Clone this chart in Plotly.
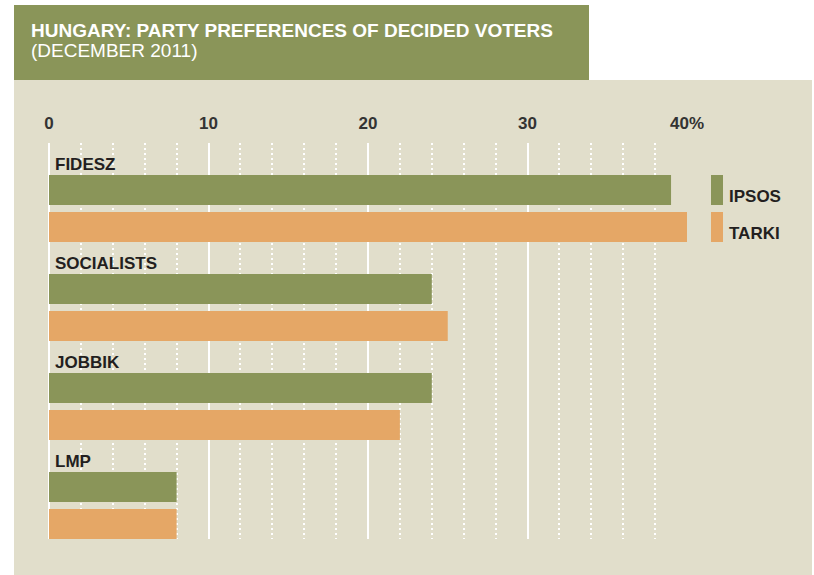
import plotly.graph_objects as go

# ---- data ----
parties = ["FIDESZ", "SOCIALISTS", "JOBBIK", "LMP"]
ipsos = [39, 24, 24, 8]
tarki = [40, 25, 22, 8]
series_names = ["IPSOS", "TARKI"]
tick_vals = [0, 10, 20, 30, 40]
tick_text = ["0", "10", "20", "30", "40%"]
title_text = "HUNGARY: PARTY PREFERENCES OF DECIDED VOTERS"
subtitle_text = "(DECEMBER 2011)"

# ---- style ----
GREEN = "#8A9559"
ORANGE = "#E5A766"
BEIGE = "#E1DECB"
DARK = "#231F20"
FONT = "Liberation Sans, Arial, Helvetica, sans-serif"

W, H = 814, 575
ML, MR, MT, MB = 49, 127, 143, 36
PW = W - ML - MR
PH = H - MT - MB


def px_x(px):
    return (px - ML) / PW


def px_y(py):
    return (H - MB - py) / PH


fig = go.Figure()
fig.add_trace(go.Bar(
    y=parties, x=ipsos, orientation="h", name=series_names[0],
    marker=dict(color=GREEN, line=dict(width=0)),
    offset=-0.1768, width=0.303, showlegend=False,
))
fig.add_trace(go.Bar(
    y=parties, x=tarki, orientation="h", name=series_names[1],
    marker=dict(color=ORANGE, line=dict(width=0)),
    offset=0.197, width=0.303, showlegend=False,
))

shapes = [
    # beige panel
    dict(type="rect", xref="paper", yref="paper", layer="below",
         x0=px_x(14), x1=px_x(812), y0=px_y(575), y1=px_y(80),
         fillcolor=BEIGE, line=dict(width=0)),
    # title box
    dict(type="rect", xref="paper", yref="paper", layer="below",
         x0=px_x(14), x1=px_x(589), y0=px_y(80), y1=px_y(5),
         fillcolor=GREEN, line=dict(width=0)),
    # legend swatches
    dict(type="rect", xref="paper", yref="paper",
         x0=px_x(711), x1=px_x(723), y0=px_y(205), y1=px_y(175),
         fillcolor=GREEN, line=dict(width=0)),
    dict(type="rect", xref="paper", yref="paper",
         x0=px_x(711), x1=px_x(723), y0=px_y(242), y1=px_y(212),
         fillcolor=ORANGE, line=dict(width=0)),
]

annotations = [
    dict(text=title_text, xref="paper", yref="paper", x=px_x(29), y=px_y(30),
         xanchor="left", yanchor="middle", showarrow=False,
         font=dict(family=FONT, size=19, color="white", weight="bold")),
    dict(text=subtitle_text, xref="paper", yref="paper", x=px_x(29), y=px_y(50),
         xanchor="left", yanchor="middle", showarrow=False,
         font=dict(family=FONT, size=19, color="white")),
    dict(text=series_names[0], xref="paper", yref="paper", x=px_x(727), y=px_y(196),
         xanchor="left", yanchor="middle", showarrow=False,
         font=dict(family=FONT, size=17, color=DARK, weight="bold")),
    dict(text=series_names[1], xref="paper", yref="paper", x=px_x(727), y=px_y(233),
         xanchor="left", yanchor="middle", showarrow=False,
         font=dict(family=FONT, size=17, color=DARK, weight="bold")),
]
for p in parties:
    annotations.append(dict(
        text=p, x=0, y=p, xref="x", yref="y", xanchor="left", yanchor="middle",
        xshift=4, yshift=28, showarrow=False,
        font=dict(family=FONT, size=17, color=DARK, weight="bold"),
    ))

fig.update_layout(
    width=W, height=H,
    margin=dict(l=ML, r=MR, t=MT, b=MB, pad=0),
    paper_bgcolor="white", plot_bgcolor=BEIGE,
    barmode="overlay",
    shapes=shapes, annotations=annotations,
    xaxis=dict(
        range=[0, 40], side="top", tickvals=tick_vals, ticktext=tick_text,
        showgrid=True, gridcolor="white", gridwidth=2,
        zeroline=True, zerolinecolor="white", zerolinewidth=2,
        ticks="", ticklabelstandoff=10, showline=False,
        tickfont=dict(family=FONT, size=17, color="#333333", weight="bold"),
        minor=dict(dtick=2, showgrid=True, gridcolor="white", gridwidth=2,
                   griddash="2px,3px"),
        fixedrange=True,
    ),
    yaxis=dict(
        type="category", categoryorder="array", categoryarray=parties,
        range=[3.5, -0.5], showticklabels=False, showgrid=False,
        zeroline=False, ticks="", fixedrange=True,
    ),
    showlegend=False,
)

fig.write_html("out.html")
